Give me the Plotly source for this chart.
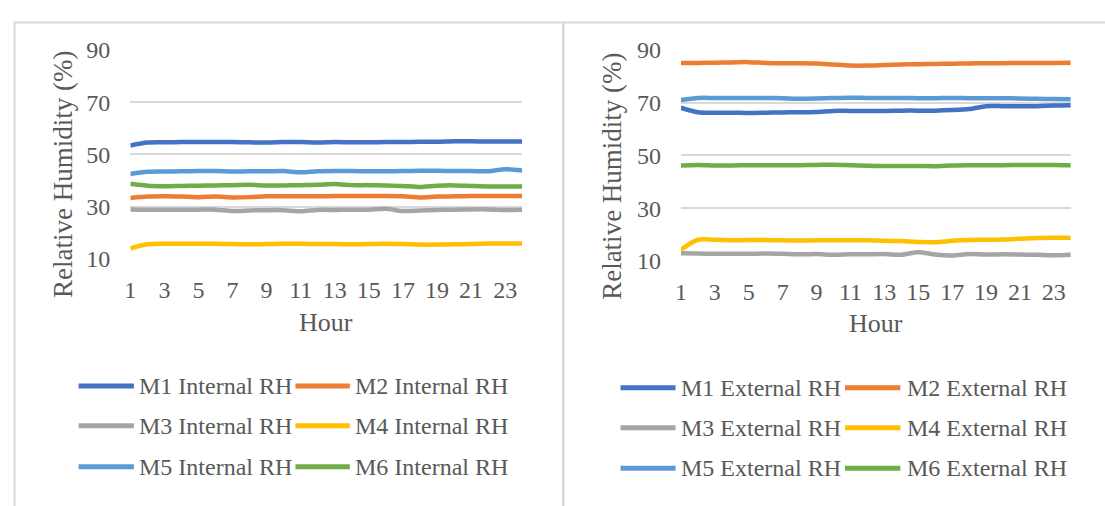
import plotly.graph_objects as go

hours = list(range(1, 25))

# Internal relative humidity (%) per hour, modules M1-M6
m1_int = [53.4, 54.5, 54.6, 54.7, 54.7, 54.7, 54.7, 54.6, 54.5, 54.7, 54.7, 54.5,
          54.7, 54.6, 54.6, 54.7, 54.7, 54.8, 54.8, 55.0, 55.0, 54.9, 54.9, 54.9]
m2_int = [33.3, 33.8, 33.9, 33.8, 33.6, 33.8, 33.5, 33.6, 33.9, 33.9, 33.9, 33.9,
          34.0, 34.0, 34.0, 34.0, 33.9, 33.5, 33.8, 33.9, 34.0, 34.0, 34.0, 34.0]
m3_int = [28.9, 28.8, 28.8, 28.8, 28.8, 28.8, 28.3, 28.5, 28.6, 28.6, 28.2, 28.7,
          28.7, 28.8, 28.8, 29.1, 28.3, 28.5, 28.7, 28.8, 28.9, 28.9, 28.7, 28.8]
m4_int = [13.9, 15.5, 15.7, 15.7, 15.7, 15.7, 15.6, 15.5, 15.6, 15.7, 15.7, 15.6,
          15.6, 15.5, 15.6, 15.7, 15.6, 15.4, 15.4, 15.5, 15.6, 15.8, 15.8, 15.8]
m5_int = [42.5, 43.3, 43.4, 43.5, 43.6, 43.6, 43.4, 43.5, 43.5, 43.6, 43.1, 43.5,
          43.6, 43.6, 43.5, 43.5, 43.6, 43.7, 43.7, 43.6, 43.6, 43.5, 44.3, 43.8]
m6_int = [38.7, 38.0, 37.8, 37.9, 38.0, 38.1, 38.2, 38.3, 38.1, 38.1, 38.2, 38.3,
          38.6, 38.2, 38.2, 38.1, 37.9, 37.5, 38.0, 38.1, 37.9, 37.7, 37.7, 37.7]

# External relative humidity (%) per hour, modules M1-M6
m1_ext = [68.1, 66.4, 66.2, 66.2, 66.1, 66.2, 66.3, 66.4, 66.5, 66.9, 66.9, 66.9,
          66.9, 67.0, 67.0, 67.0, 67.2, 67.6, 68.7, 68.7, 68.7, 68.7, 68.9, 69.0]
m2_ext = [85.1, 85.1, 85.2, 85.3, 85.4, 85.1, 85.0, 85.0, 84.9, 84.5, 84.1, 84.1,
          84.3, 84.5, 84.6, 84.7, 84.8, 84.9, 85.0, 85.0, 85.1, 85.1, 85.1, 85.2]
m3_ext = [12.9, 12.8, 12.7, 12.7, 12.7, 12.8, 12.7, 12.5, 12.6, 12.3, 12.5, 12.5,
          12.6, 12.3, 13.3, 12.4, 12.0, 12.6, 12.4, 12.5, 12.4, 12.3, 12.1, 12.3]
m4_ext = [14.2, 18.0, 18.0, 17.8, 17.9, 17.9, 17.8, 17.7, 17.8, 17.8, 17.8, 17.8,
          17.6, 17.5, 17.2, 17.1, 17.6, 17.9, 18.0, 18.1, 18.4, 18.7, 18.8, 18.8]
m5_ext = [71.0, 71.8, 71.8, 71.8, 71.8, 71.8, 71.7, 71.5, 71.6, 71.8, 71.9, 71.8,
          71.8, 71.8, 71.7, 71.7, 71.8, 71.7, 71.7, 71.7, 71.6, 71.5, 71.4, 71.3]
m6_ext = [46.2, 46.4, 46.2, 46.2, 46.3, 46.3, 46.3, 46.3, 46.4, 46.5, 46.3, 46.1,
          46.0, 46.0, 46.0, 45.9, 46.2, 46.3, 46.3, 46.3, 46.4, 46.4, 46.4, 46.3]

internal_names = ["M1 Internal RH", "M2 Internal RH", "M3 Internal RH",
                  "M4 Internal RH", "M5 Internal RH", "M6 Internal RH"]
external_names = ["M1 External RH", "M2 External RH", "M3 External RH",
                  "M4 External RH", "M5 External RH", "M6 External RH"]
colors = ["#4472C4", "#ED7D31", "#A5A5A5", "#FFC000", "#5B9BD5", "#70AD47"]

x_ticks = list(range(1, 24, 2))
y_ticks = [10, 30, 50, 70, 90]

W, H = 1105, 506
FONT = "Liberation Serif"
TXT = "#595959"
GRID = "#D9D9D9"


def px_x(v):
    return v / W


def px_y(v):
    return 1 - v / H


fig = go.Figure()

internal = [m1_int, m2_int, m3_int, m4_int, m5_int, m6_int]
external = [m1_ext, m2_ext, m3_ext, m4_ext, m5_ext, m6_ext]

for name, vals, c in zip(internal_names, internal, colors):
    fig.add_trace(go.Scatter(x=hours, y=vals, name=name, mode="lines",
                             line=dict(color=c, width=4.5, shape="spline", smoothing=0.8),
                             xaxis="x", yaxis="y", showlegend=False))
for name, vals, c in zip(external_names, external, colors):
    fig.add_trace(go.Scatter(x=hours, y=vals, name=name, mode="lines",
                             line=dict(color=c, width=4.5, shape="spline", smoothing=0.8),
                             xaxis="x2", yaxis="y2", showlegend=False))

xcommon = dict(range=[1, 24], tickvals=x_ticks, showgrid=False, zeroline=False,
               showline=False, ticks="", ticklabelstandoff=14,
               tickfont=dict(family=FONT, size=24, color=TXT))
ycommon = dict(range=[10, 90], tickvals=y_ticks, showgrid=True, gridcolor=GRID,
               gridwidth=1.5, zeroline=False, showline=False, ticks="",
               ticklabelstandoff=19, tickfont=dict(family=FONT, size=24, color=TXT))

fig.update_layout(
    width=W, height=H,
    margin=dict(l=0, r=0, t=0, b=0),
    paper_bgcolor="white", plot_bgcolor="white",
    xaxis=dict(domain=[px_x(125), px_x(519)], anchor="y", **xcommon),
    yaxis=dict(domain=[px_y(259), px_y(39)], anchor="x", **ycommon),
    xaxis2=dict(domain=[px_x(678.6), px_x(1070.6)], anchor="y2", **xcommon),
    yaxis2=dict(domain=[px_y(261.3), px_y(39)], anchor="x2", **ycommon),
)

shapes = []
# chart frames
shapes.append(dict(type="rect", xref="paper", yref="paper",
                   x0=px_x(8.6), x1=px_x(560), y0=px_y(530), y1=px_y(10),
                   line=dict(color=GRID, width=2), layer="below"))
shapes.append(dict(type="rect", xref="paper", yref="paper",
                   x0=px_x(560.7), x1=px_x(1130), y0=px_y(530), y1=px_y(10),
                   line=dict(color=GRID, width=2), layer="below"))

annotations = []
# axis titles
for cx, cy in [(322, 326), (874.6, 327)]:
    annotations.append(dict(text="Hour", x=px_x(cx), y=px_y(cy), xref="paper", yref="paper",
                            showarrow=False, xanchor="center", yanchor="middle",
                            font=dict(family=FONT, size=26, color=TXT)))
for cx, cy in [(58, 170), (609, 172)]:
    annotations.append(dict(text="Relative Humidity (%)", x=px_x(cx), y=px_y(cy),
                            xref="paper", yref="paper", textangle=-90, showarrow=False,
                            xanchor="center", yanchor="middle",
                            font=dict(family=FONT, size=27, color=TXT)))

# legends: two columns by three rows under each chart
legend_specs = [
    (internal_names, [(73, 128.6, 132), (291, 345.7, 349)], [393.3, 435, 478.3]),
    (external_names, [(617.9, 673.2, 676.8), (843.6, 899.3, 903.6)], [395, 437.3, 480]),
]
for names, cols, rows in legend_specs:
    for i, (name, c) in enumerate(zip(names, colors)):
        col = cols[i % 2]
        ry = rows[i // 2]
        shapes.append(dict(type="line", xref="paper", yref="paper",
                           x0=px_x(col[0]), x1=px_x(col[1]), y0=px_y(ry), y1=px_y(ry),
                           line=dict(color=c, width=5)))
        annotations.append(dict(text=name, x=px_x(col[2]), y=px_y(ry), xref="paper",
                                yref="paper", showarrow=False, xanchor="left",
                                yanchor="middle",
                                font=dict(family=FONT, size=24, color=TXT)))

fig.update_layout(shapes=shapes, annotations=annotations)

# page body without default margin so the figure sits at the window origin
fig.write_html("out.html", post_script="document.body.style.margin='0px';")
